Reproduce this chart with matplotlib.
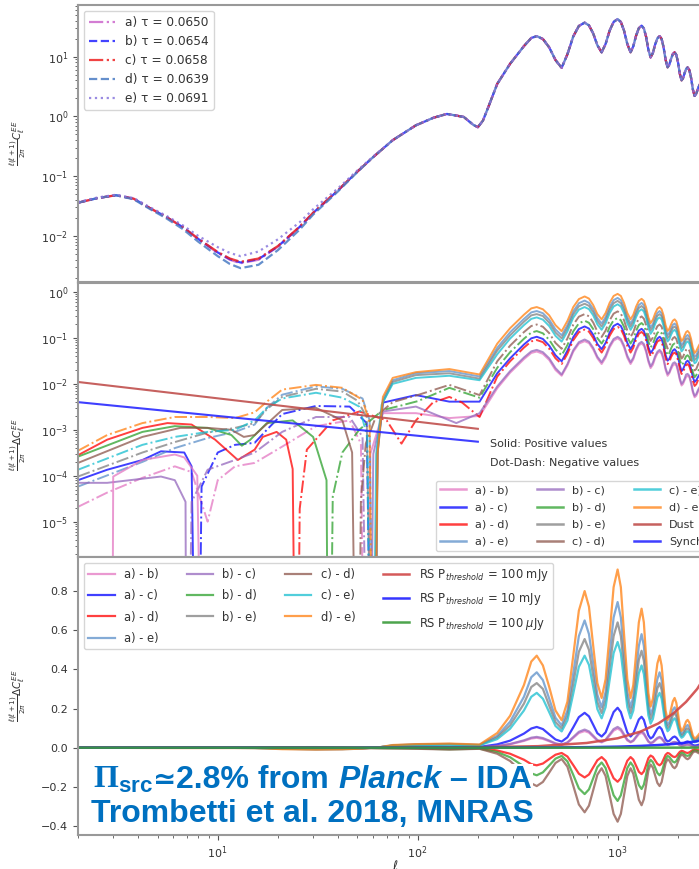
import numpy as np
import matplotlib
matplotlib.use('Agg')
import matplotlib.pyplot as plt
from matplotlib.lines import Line2D
from matplotlib.offsetbox import TextArea, HPacker, AnnotationBbox

plt.rcParams['mathtext.rm'] = 'Liberation Serif:bold'
plt.rcParams['mathtext.bf'] = 'Liberation Sans:bold'
plt.rcParams['mathtext.it'] = 'Liberation Sans:italic:bold'

# ------------------------------------------------------------------ data
tau_labels = ['a) τ = 0.0650', 'b) τ = 0.0654', 'c) τ = 0.0658',
              'd) τ = 0.0639', 'e) τ = 0.0691']

# EE spectra, low multipoles (differ per tau)
ell_ee_lo = [2, 2.5, 3.1, 3.8, 4.6, 5.5, 6.7, 8, 10, 11.5, 13, 16, 20, 25.7,
             30, 40, 50, 60, 75, 98, 120, 140, 170]
ee_a_lo = [0.036, 0.043, 0.048, 0.042, 0.029, 0.021, 0.014, 0.0088, 0.0052, 0.0040,
           0.0035, 0.0040, 0.0066, 0.014, 0.024, 0.058, 0.12, 0.21, 0.40, 0.71, 0.95, 1.1, 0.98]
ee_b_lo = [0.036, 0.043, 0.048, 0.042, 0.029, 0.021, 0.014, 0.0089, 0.0053, 0.0041,
           0.0036, 0.0041, 0.0067, 0.0142, 0.0243, 0.058, 0.12, 0.21, 0.40, 0.71, 0.95, 1.1, 0.98]
ee_c_lo = [0.036, 0.043, 0.048, 0.042, 0.029, 0.021, 0.014, 0.0090, 0.0054, 0.0042,
           0.0037, 0.0042, 0.0068, 0.0144, 0.0245, 0.059, 0.12, 0.21, 0.40, 0.71, 0.95, 1.1, 0.98]
ee_d_lo = [0.036, 0.043, 0.048, 0.041, 0.028, 0.020, 0.013, 0.0080, 0.0046, 0.0034,
           0.0029, 0.0033, 0.0058, 0.0128, 0.0228, 0.056, 0.118, 0.21, 0.40, 0.71, 0.95, 1.1, 0.98]
ee_e_lo = [0.037, 0.044, 0.049, 0.043, 0.030, 0.022, 0.015, 0.0100, 0.0065, 0.0052,
           0.0046, 0.0055, 0.0088, 0.017, 0.028, 0.063, 0.125, 0.215, 0.40, 0.71, 0.95, 1.1, 0.98]

# EE around the ell~200 trough (common)
ell_ee_trough = [190, 200, 212, 225]
ee_trough = [0.72, 0.66, 0.85, 1.4]

# common high-ell grid
ell_dhi = [250, 290, 340, 370, 394, 423, 455, 489, 525, 561, 600, 640, 684, 719, 755, 792,
           832, 871, 912, 955, 1000, 1038, 1077, 1118, 1161, 1198, 1237, 1277, 1318, 1353,
           1389, 1425, 1462, 1501, 1540, 1581, 1622, 1660, 1698, 1738, 1778, 1814, 1851,
           1889, 1928, 1967, 2007, 2048, 2089, 2126, 2163, 2201, 2239, 2285, 2331, 2378,
           2427, 2474, 2522, 2570, 2620]

# EE spectrum at high ell (common to all tau)
ee_hi = [3.5, 7.6, 15, 20.5, 22, 19.7, 14.25, 8.76, 6.5, 10.95, 21.75, 32.55, 37, 33.3,
         24.4, 15.5, 11.8, 16.3, 27.15, 38.0, 42.5, 38.0, 27.15, 16.3, 11.8, 14.9, 22.4,
         29.9, 33, 29.6, 21.35, 13.1, 9.7, 11.5, 15.85, 20.2, 22, 19.75, 14.3, 8.85, 6.6,
         7.36, 9.2, 11.04, 11.8, 10.66, 7.9, 5.14, 4.0, 4.38, 5.3, 6.22, 6.6, 5.96, 4.4,
         2.84, 2.2, 2.4, 2.9, 3.4, 3.6]

# Differences (signed): low part per series, high part on ell_dhi
ell_ab_lo = [2, 2.8, 4.2, 6.1, 7.4, 8.9, 10, 12.2, 15.3, 21, 31, 45.7, 52, 55, 58, 67, 98, 144, 204]
ab_lo = [-2.1e-5, -4.3e-5, -9e-5, -1.6e-4, -1.2e-4, -1e-5, -8e-5, -1.6e-4, -1.9e-4, -4.3e-4,
         -1.2e-3, -1.6e-3, -5e-4, 0, 3e-4, 2.3e-3, 2.3e-3, 1.8e-3, 2e-3]
ab_hi = [0.008, 0.0175, 0.0345, 0.047, 0.0506, 0.045, 0.033, 0.02, 0.015, 0.025, 0.05,
         0.075, 0.085, 0.077, 0.056, 0.036, 0.027, 0.037, 0.062, 0.087, 0.098, 0.087, 0.062,
         0.037, 0.027, 0.034, 0.052, 0.069, 0.076, 0.068, 0.049, 0.03, 0.022, 0.026, 0.036,
         0.046, 0.0506, 0.045, 0.033, 0.02, 0.015, 0.017, 0.021, 0.025, 0.027, 0.025, 0.018,
         0.012, 0.0092, 0.01, 0.012, 0.014, 0.015, 0.014, 0.01, 0.0065, 0.0051, 0.0055,
         0.0067, 0.0078, 0.0083]
ell_ab_branch = [2.95, 3.0, 4.2, 6.1, 6.8, 7.9, 8.5]
ab_branch = [0, 9.6e-5, 2.2e-4, 2.9e-4, 2.5e-4, 1e-4, 0]

ell_ac_lo = [2, 2.8, 4.2, 5.2, 6.8, 7.4, 7.9, 8.3, 10, 12.2, 15.3, 17.6, 21, 31, 45.7, 55.6,
             59.6, 63, 67, 98, 144, 204]
ac_lo = [8e-5, 1.35e-4, 2.2e-4, 3.4e-4, 3.2e-4, 1.6e-4, 0, -5.8e-5, -3.2e-4, -4.7e-4,
         -5.2e-4, -1.0e-3, -2.2e-3, -3.3e-3, -3.2e-3, -1.4e-3, 0, 4e-4, 3.9e-3, 5.7e-3,
         4.1e-3, 4.1e-3]
ac_hi = [0.017, 0.036, 0.072, 0.098, 0.106, 0.095, 0.068, 0.042, 0.031, 0.053, 0.104,
         0.156, 0.178, 0.16, 0.117, 0.074, 0.057, 0.078, 0.13, 0.182, 0.204, 0.182, 0.13,
         0.078, 0.057, 0.072, 0.108, 0.144, 0.158, 0.142, 0.102, 0.063, 0.047, 0.055, 0.076,
         0.097, 0.106, 0.095, 0.069, 0.042, 0.032, 0.035, 0.044, 0.053, 0.057, 0.051, 0.038,
         0.025, 0.019, 0.021, 0.025, 0.03, 0.032, 0.029, 0.021, 0.014, 0.011, 0.012, 0.014,
         0.016, 0.017]

ell_ad_lo = [2, 2.8, 4.2, 5.6, 7.4, 9.7, 12.6, 15.3, 16.8, 19.7, 22, 23.7, 24.8, 25.7, 27.9,
             37.6, 51, 60, 70, 83, 98, 119, 144, 167, 204]
ad_lo = [2.8e-4, 6.1e-4, 1.1e-3, 1.4e-3, 1.3e-3, 6.1e-4, 2.2e-4, 3.7e-4, 7e-4, 9e-4, 6.1e-4,
         1.4e-4, 0, -1.9e-5, -3.7e-4, -1.6e-3, -2.5e-3, -2e-3, -1.6e-3, -5e-4, -1.6e-3,
         -3.9e-3, -5.2e-3, -3.9e-3, -1.9e-3]
ad_hi = [-0.0144, -0.031, -0.0615, -0.084, -0.09, -0.081, -0.058, -0.036, -0.027, -0.045,
         -0.089, -0.133, -0.152, -0.137, -0.1, -0.064, -0.048, -0.067, -0.111, -0.156,
         -0.174, -0.156, -0.111, -0.067, -0.048, -0.061, -0.092, -0.123, -0.135, -0.121,
         -0.088, -0.054, -0.04, -0.047, -0.065, -0.083, -0.09, -0.081, -0.059, -0.036,
         -0.027, -0.03, -0.038, -0.045, -0.048, -0.044, -0.032, -0.021, -0.0164, -0.018,
         -0.022, -0.0255, -0.027, -0.024, -0.018, -0.0116, -0.009, -0.0098, -0.0119, -0.014,
         -0.0148]

ell_ae_lo = [2, 4.2, 6.1, 8.9, 12.2, 15.3, 17.6, 21, 31, 42, 53, 57.5, 61, 63, 67, 75, 98, 144, 204]
ae_lo = [-5.8e-5, -2e-4, -4e-4, -6.6e-4, -9e-4, -1.3e-3, -3e-3, -5.8e-3, -8.8e-3, -7.8e-3,
         -4.8e-3, -1.6e-3, 0, 3e-4, 4.5e-3, 0.012, 0.017, 0.019, 0.0145]
ae_hi = [0.061, 0.133, 0.26, 0.36, 0.385, 0.345, 0.25, 0.153, 0.114, 0.19, 0.38, 0.57, 0.65,
         0.58, 0.43, 0.27, 0.206, 0.285, 0.475, 0.665, 0.744, 0.665, 0.475, 0.285, 0.206,
         0.26, 0.39, 0.52, 0.58, 0.52, 0.37, 0.23, 0.17, 0.20, 0.28, 0.35, 0.385, 0.345,
         0.25, 0.155, 0.116, 0.129, 0.161, 0.193, 0.206, 0.187, 0.138, 0.09, 0.07, 0.077,
         0.093, 0.109, 0.116, 0.104, 0.077, 0.05, 0.039, 0.042, 0.051, 0.06, 0.063]

ell_bc_lo = [2, 2.8, 5.2, 6.1, 6.9, 7.0, 7.4, 8.9, 12.2, 15.3, 21, 31, 45.7, 53, 57, 60, 67,
             98, 156, 204]
bc_lo = [7e-5, 7e-5, 9.6e-5, 8e-5, 2.7e-5, 0, -2.7e-5, -1.35e-4, -2.2e-4, -3.2e-4, -9e-4,
         -1.9e-3, -1.9e-3, -7e-4, 0, 3e-4, 2.5e-3, 3.2e-3, 1.4e-3, 2.3e-3]
bc_hi = [0.0088, 0.019, 0.0375, 0.051, 0.055, 0.049, 0.036, 0.022, 0.016, 0.027, 0.054,
         0.081, 0.0925, 0.083, 0.061, 0.039, 0.0295, 0.041, 0.068, 0.095, 0.106, 0.095,
         0.068, 0.041, 0.0295, 0.037, 0.056, 0.075, 0.0825, 0.074, 0.053, 0.033, 0.024,
         0.029, 0.04, 0.05, 0.055, 0.049, 0.036, 0.022, 0.0165, 0.018, 0.023, 0.028, 0.0295,
         0.027, 0.02, 0.013, 0.01, 0.011, 0.013, 0.016, 0.0165, 0.015, 0.011, 0.0071, 0.0055,
         0.006, 0.0073, 0.0085, 0.009]

ell_bd_lo = [2, 4.2, 6.1, 8.9, 11.7, 13.2, 14.5, 17.6, 23.7, 30, 35, 36, 37.6, 42, 51, 67,
             81, 100, 144, 204]
bd_lo = [2.6e-4, 9e-4, 1.2e-3, 1.1e-3, 7.7e-4, 4.5e-4, 6e-4, 1.4e-3, 1.6e-3, 7e-4, 8e-5, 0,
         -3.5e-5, -3.2e-4, -1e-3, -2.7e-3, -3.3e-3, -4.2e-3, -8.2e-3, -5e-3]
bd_hi = [-0.0224, -0.049, -0.096, -0.131, -0.141, -0.126, -0.091, -0.056, -0.042, -0.07,
         -0.139, -0.208, -0.237, -0.213, -0.156, -0.099, -0.0755, -0.104, -0.174, -0.243,
         -0.272, -0.243, -0.174, -0.104, -0.0755, -0.095, -0.143, -0.191, -0.211, -0.189,
         -0.137, -0.084, -0.062, -0.074, -0.101, -0.129, -0.141, -0.126, -0.092, -0.057,
         -0.042, -0.047, -0.059, -0.071, -0.0755, -0.068, -0.051, -0.033, -0.0256, -0.028,
         -0.034, -0.04, -0.042, -0.038, -0.028, -0.018, -0.014, -0.0154, -0.0186, -0.0218,
         -0.023]

ell_be_lo = [2, 4.2, 6.1, 8.9, 12.2, 15.3, 17.6, 21, 31, 42, 50, 55.6, 60, 63, 67, 75, 98, 144, 204]
be_lo = [-9.6e-5, -3.2e-4, -5.4e-4, -8.7e-4, -1.1e-3, -1.4e-3, -2.8e-3, -5.2e-3, -7.8e-3,
         -6.8e-3, -4.3e-3, -1.9e-3, 0, 3e-4, 4e-3, 0.011, 0.0155, 0.017, 0.013]
be_hi = [0.053, 0.114, 0.225, 0.31, 0.33, 0.30, 0.214, 0.131, 0.098, 0.164, 0.326, 0.49,
         0.555, 0.50, 0.366, 0.233, 0.177, 0.245, 0.407, 0.57, 0.64, 0.57, 0.407, 0.245,
         0.177, 0.224, 0.336, 0.449, 0.495, 0.444, 0.32, 0.197, 0.146, 0.173, 0.238, 0.303,
         0.33, 0.296, 0.215, 0.133, 0.099, 0.11, 0.138, 0.166, 0.177, 0.16, 0.119, 0.077,
         0.06, 0.066, 0.08, 0.093, 0.099, 0.089, 0.066, 0.043, 0.033, 0.036, 0.044, 0.051,
         0.054]

ell_cd_lo = [2, 4.2, 6.5, 8.9, 11.7, 13.5, 15.3, 21, 31, 42, 47, 50, 52, 55, 62, 75, 100, 144, 204]
cd_lo = [1.9e-4, 7e-4, 1.1e-3, 1.1e-3, 1e-3, 7e-4, 7.7e-4, 2.7e-3, 3e-3, 1.6e-3, 3.2e-4, 0,
         -3e-5, -5e-4, -2e-3, -4e-3, -5.7e-3, -9.5e-3, -5.7e-3]
cd_hi = [-0.031, -0.068, -0.134, -0.182, -0.196, -0.175, -0.127, -0.078, -0.058, -0.097,
         -0.194, -0.29, -0.33, -0.296, -0.217, -0.138, -0.105, -0.145, -0.242, -0.338,
         -0.378, -0.338, -0.242, -0.145, -0.105, -0.133, -0.199, -0.266, -0.294, -0.263,
         -0.19, -0.117, -0.086, -0.102, -0.141, -0.18, -0.196, -0.176, -0.127, -0.079,
         -0.059, -0.066, -0.082, -0.098, -0.105, -0.095, -0.07, -0.046, -0.0356, -0.039,
         -0.047, -0.055, -0.059, -0.053, -0.039, -0.025, -0.0196, -0.021, -0.026, -0.03,
         -0.032]

ell_ce_lo = [2, 4.2, 6.1, 8.9, 12.2, 15.3, 17.6, 21, 31, 42, 51, 56, 59, 62, 66, 75, 98, 144, 204]
ce_lo = [-1.35e-4, -4.7e-4, -7e-4, -9e-4, -1e-3, -1.6e-3, -3e-3, -4.8e-3, -6.4e-3, -5e-3,
         -3.2e-3, -7e-4, 0, 3e-4, 3.5e-3, 0.01, 0.0135, 0.015, 0.012]
ce_hi = [0.044, 0.097, 0.19, 0.26, 0.28, 0.25, 0.181, 0.111, 0.083, 0.139, 0.276, 0.413,
         0.47, 0.423, 0.31, 0.197, 0.15, 0.207, 0.345, 0.483, 0.54, 0.483, 0.345, 0.207,
         0.15, 0.189, 0.284, 0.38, 0.42, 0.376, 0.271, 0.166, 0.123, 0.146, 0.201, 0.257,
         0.28, 0.251, 0.182, 0.112, 0.084, 0.093, 0.117, 0.14, 0.15, 0.135, 0.1, 0.065,
         0.051, 0.056, 0.067, 0.079, 0.084, 0.076, 0.056, 0.036, 0.028, 0.03, 0.037, 0.043,
         0.046]

ell_de_lo = [2, 2.8, 4.2, 6.1, 8.9, 12.2, 15.3, 17.6, 21, 31, 42, 53, 57.5, 60, 63, 67, 75,
             98, 144, 204]
de_lo = [-3.5e-4, -7.7e-4, -1.4e-3, -1.9e-3, -1.9e-3, -1.8e-3, -2.4e-3, -4.1e-3, -7.5e-3,
         -9.5e-3, -8.2e-3, -4.5e-3, -1.4e-3, 0, 3.2e-4, 5.2e-3, 0.0135, 0.018, 0.021, 0.016]
de_hi = [0.075, 0.163, 0.32, 0.44, 0.47, 0.42, 0.31, 0.19, 0.14, 0.235, 0.47, 0.70, 0.80,
         0.72, 0.52, 0.33, 0.254, 0.35, 0.58, 0.82, 0.91, 0.82, 0.58, 0.35, 0.254, 0.32,
         0.48, 0.64, 0.71, 0.64, 0.46, 0.28, 0.21, 0.25, 0.34, 0.43, 0.47, 0.42, 0.31, 0.19,
         0.142, 0.158, 0.198, 0.237, 0.254, 0.229, 0.17, 0.11, 0.086, 0.094, 0.114, 0.134,
         0.142, 0.128, 0.095, 0.061, 0.047, 0.052, 0.062, 0.073, 0.077]

diff_labels = ['a) - b)', 'a) - c)', 'a) - d)', 'a) - e)', 'b) - c)', 'b) - d)',
               'b) - e)', 'c) - d)', 'c) - e)', 'd) - e)']

# Foregrounds (panel 2)
ell_fg = [2, 200]
dust_fg = [0.011, 0.00105]
synch_fg = [0.0040, 0.00055]

# Radio sources (panel 3)
ell_rs = [2, 10, 50, 100, 200, 400, 700, 1000, 1300, 1600, 1900, 2200, 2500, 2800, 3000]
rs_100mjy = [1.9e-7, 4.8e-6, 1.2e-4, 4.8e-4, 0.0019, 0.0077, 0.024, 0.048, 0.082, 0.124,
             0.175, 0.234, 0.30, 0.38, 0.44]
rs_10mjy = [2e-8, 5e-7, 1.3e-5, 5e-5, 2e-4, 8e-4, 0.0026, 0.0053, 0.009, 0.0136, 0.019,
            0.026, 0.033, 0.042, 0.048]
rs_100ujy = [0, 0, 0, 0, 0, 1e-5, 3e-5, 6e-5, 1e-4, 1.5e-4, 2e-4, 2.7e-4, 3.5e-4, 4.5e-4, 5e-4]
rs_labels = [r'RS P$_{threshold}$ = 100 mJy', r'RS P$_{threshold}$ = 10 mJy',
             r'RS P$_{threshold}$ = 100 $\mu$Jy']

# ------------------------------------------------------------------ styling
ee_styles = [('#cc66cc', '-.'), ('#2222ff', '--'), ('#ee2222', '-.'),
             ('#4a7cc4', '--'), ('#8877dd', ':')]
diff_colors = ['#e377c2', '#0000ff', '#ff0000', '#5b8fc9', '#9467bd', '#2ca02c',
               '#7f7f7f', '#8c564b', '#17becf', '#ff7f0e']
dust_color = '#c0504d'
synch_color = '#2a2aff'
rs_colors = ['#d04848', '#2020ff', '#3a9a3a']
ALPHA = 0.75
SPINE = '#999999'
TXT = '#333333'

W_PX, H_PX = 699, 869
fig = plt.figure(figsize=(W_PX / 100, H_PX / 100), dpi=100)
L = 78 / W_PX
W = (713 - 78) / W_PX


def add_ax(top, bot):
    return fig.add_axes([L, 1 - bot / H_PX, W, (bot - top) / H_PX])


ax1 = add_ax(5, 282)
ax2 = add_ax(283, 557)
ax3 = add_ax(557, 835)

for ax in (ax1, ax2, ax3):
    ax.set_xscale('log')
    ax.set_xlim(2, 3000)
    for s in ax.spines.values():
        s.set_color(SPINE)
        s.set_linewidth(1.5)
    ax.tick_params(which='both', colors='#555555', labelcolor=TXT, labelsize=8)
    ax.tick_params(which='major', length=3.5)
    ax.tick_params(which='minor', length=2)

# ---------------- panel 1
ee_lo_all = [ee_a_lo, ee_b_lo, ee_c_lo, ee_d_lo, ee_e_lo]
for lo, (col, ls), lab in zip(ee_lo_all, ee_styles, tau_labels):
    ell = list(ell_ee_lo) + list(ell_ee_trough) + list(ell_dhi)
    val = list(lo) + list(ee_trough) + list(ee_hi)
    ax1.plot(ell, val, color=col, ls=ls, lw=1.6, alpha=0.85, label=lab)
ax1.set_yscale('log')
ax1.set_ylim(0.0017, 73)
ax1.tick_params(axis='x', which='both', labelbottom=False)
leg1 = ax1.legend(loc='upper left', fontsize=8.7, framealpha=0.8, edgecolor='#cccccc',
                  handlelength=2.2)
for t in leg1.get_texts():
    t.set_color(TXT)
ax1.set_ylabel(r'$\frac{\ell(\ell+1)}{2\pi}C_\ell^{EE}$', fontsize=7.5, color=TXT)
ax1.yaxis.set_label_coords(-0.079, 0.5)

# ---------------- panel 2
diff_series = [(ell_ab_lo, ab_lo, ab_hi), (ell_ac_lo, ac_lo, ac_hi), (ell_ad_lo, ad_lo, ad_hi),
               (ell_ae_lo, ae_lo, ae_hi), (ell_bc_lo, bc_lo, bc_hi), (ell_bd_lo, bd_lo, bd_hi),
               (ell_be_lo, be_lo, be_hi), (ell_cd_lo, cd_lo, cd_hi), (ell_ce_lo, ce_lo, ce_hi),
               (ell_de_lo, de_lo, de_hi)]


def plot_signed_log(ax, ell, val, color, lw=1.4):
    ell = np.asarray(ell, float)
    val = np.asarray(val, float)
    mag = np.where(val == 0, 1e-12, np.abs(val))
    pos = np.where(val >= 0, mag, np.nan)
    neg = np.where(val <= 0, mag, np.nan)
    ax.plot(ell, pos, color=color, lw=lw, alpha=ALPHA, ls='-')
    ax.plot(ell, neg, color=color, lw=lw, alpha=ALPHA, ls='-.')


for (el, lo, hi), col in zip(diff_series, diff_colors):
    plot_signed_log(ax2, list(el) + list(ell_dhi), list(lo) + list(hi), col)
plot_signed_log(ax2, ell_ab_branch, ab_branch, diff_colors[0])
ax2.plot(ell_fg, dust_fg, color=dust_color, lw=1.5, alpha=0.9)
ax2.plot(ell_fg, synch_fg, color=synch_color, lw=1.5, alpha=0.9)
ax2.set_yscale('log')
ax2.set_ylim(1.7e-6, 1.57)
ax2.tick_params(axis='x', which='both', labelbottom=False)
h2 = [Line2D([], [], color=c, lw=1.8, alpha=ALPHA) for c in diff_colors]
h2 += [Line2D([], [], color=dust_color, lw=1.8, alpha=0.9),
       Line2D([], [], color=synch_color, lw=1.8, alpha=0.9)]
leg2 = ax2.legend(h2, diff_labels + ['Dust', 'Synch'], loc='lower right', ncol=3,
                  fontsize=8, framealpha=0.8, edgecolor='#cccccc', handlelength=2.3,
                  columnspacing=2.6, labelspacing=0.65)
for t in leg2.get_texts():
    t.set_color(TXT)
ax2.set_ylabel(r'$\frac{\ell(\ell+1)}{2\pi}\Delta C_\ell^{EE}$', fontsize=7.5, color=TXT)
ax2.yaxis.set_label_coords(-0.079, 0.41)
fig.text(490 / W_PX, 1 - 444 / H_PX, 'Solid: Positive values', fontsize=8, color=TXT, va='center')
fig.text(490 / W_PX, 1 - 463 / H_PX, 'Dot-Dash: Negative values', fontsize=8, color=TXT, va='center')

# ---------------- panel 3
h3 = []
for (el, lo, hi), col, lab in zip(diff_series, diff_colors, diff_labels):
    h, = ax3.plot(list(el) + list(ell_dhi), list(lo) + list(hi), color=col, lw=1.6,
                  alpha=ALPHA, label=lab)
    h3.append(h)
for vals, col, lab in zip([rs_100mjy, rs_10mjy, rs_100ujy], rs_colors, rs_labels):
    h, = ax3.plot(ell_rs, vals, color=col, lw=1.8, alpha=0.9, label=lab)
    h3.append(h)
ax3.set_ylim(-0.446, 0.974)
ax3.set_yticks([-0.4, -0.2, 0.0, 0.2, 0.4, 0.6, 0.8])
leg3 = ax3.legend(handles=h3, loc='upper left', ncol=4, fontsize=8.3, framealpha=0.8,
                  edgecolor='#cccccc', handlelength=2.3, columnspacing=2.4,
                  labelspacing=0.7)
for t in leg3.get_texts():
    t.set_color(TXT)
ax3.set_ylabel(r'$\frac{\ell(\ell+1)}{2\pi}\Delta C_\ell^{EE}$', fontsize=7.5, color=TXT)
ax3.yaxis.set_label_coords(-0.079, 0.5)
ax3.set_xlabel(r'$\ell$', fontsize=9, color=TXT)
ax3.xaxis.set_label_coords(0.5, -0.085)

# ---------------- overlay annotation
blue_txt = '#0070c0'
FS = 23
base = dict(fontsize=FS, color=blue_txt, fontweight='bold', family='Liberation Sans')
parts = [
    TextArea(r'$\mathrm{\Pi}_\mathbf{src}$', textprops=dict(base, math_fontfamily='custom')),
    TextArea('≃', textprops=dict(base, family='DejaVu Sans', fontsize=FS - 3)),
    TextArea('2.8% from ', textprops=base),
    TextArea('Planck', textprops=dict(base, style='italic')),
    TextArea(' – IDA', textprops=base),
]
line1 = HPacker(children=parts, align='baseline', pad=0, sep=0)
ab1 = AnnotationBbox(line1, (93, H_PX - 795), xycoords='figure pixels',
                     box_alignment=(0, 0), frameon=True, pad=0.1,
                     bboxprops=dict(facecolor='white', edgecolor='none'))
fig.add_artist(ab1)
fig.text(91 / W_PX, 1 - 822 / H_PX, 'Trombetti et al. 2018, MNRAS',
         va='baseline', ha='left', bbox=dict(facecolor='white', edgecolor='none', pad=1.5),
         **base)

fig.savefig('out.png', dpi=100)
